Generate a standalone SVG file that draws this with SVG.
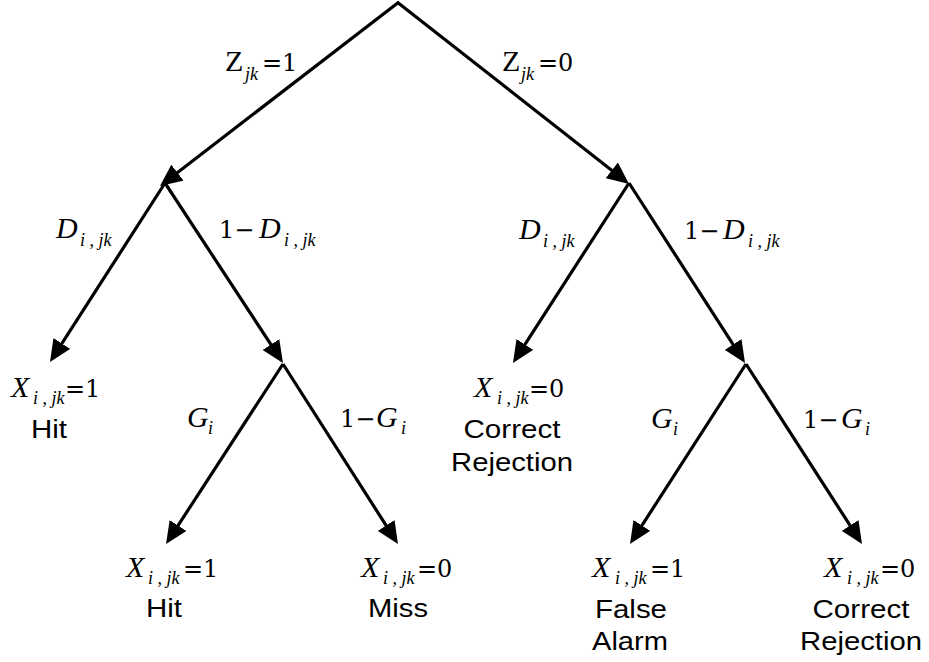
<svg xmlns="http://www.w3.org/2000/svg" width="929" height="662" viewBox="0 0 929 662">
<style>
.e{fill:none;stroke:#000;stroke-width:3.2;marker-end:url(#ah)}
.v{font-family:"Liberation Serif","Times New Roman",serif;font-style:italic;font-size:30px;fill:#000}
.s{font-family:"Liberation Serif","Times New Roman",serif;font-style:italic;font-size:18px}
.n{font-family:"DejaVu Serif",serif;font-style:normal;font-size:24px}
.t{font-family:"Liberation Sans",Arial,sans-serif;font-size:26px;fill:#000;text-anchor:middle}
</style>
<defs>
<marker id="ah" viewBox="0 0 22 20" refX="10" refY="10" markerWidth="22" markerHeight="20" markerUnits="userSpaceOnUse" orient="auto">
<path d="M0,0 L22,10 L0,20 Z" fill="#000"/>
</marker>
</defs>
<rect width="929" height="662" fill="#fff"/>
<g id="connectors">
<path class="e" d="M399,2 L169.5,178.7"/>
<path class="e" d="M397,2 L619.6,176.5"/>
<path class="e" d="M165,183 L56.5,351.9"/>
<path class="e" d="M165,183 L276.4,352.9"/>
<path class="e" d="M629,183 L519.5,352.9"/>
<path class="e" d="M629,183 L738.5,352.9"/>
<path class="e" d="M283,364 L172.6,533.9"/>
<path class="e" d="M283,364 L391.5,533.9"/>
<path class="e" d="M746,364 L636.5,533.9"/>
<path class="e" d="M746,364 L855.5,533.9"/>
</g>
<g id="edge-labels">
<text class="v"><tspan x="225" y="71" font-style="normal">Z</tspan><tspan class="s" x="245" y="80">jk</tspan><tspan class="n" x="262" y="71">=1</tspan></text>
<text class="v"><tspan x="502" y="71" font-style="normal">Z</tspan><tspan class="s" x="521" y="80">jk</tspan><tspan class="n" x="538" y="71">=0</tspan></text>
<text class="v"><tspan x="56" y="238">D</tspan><tspan class="s" x="80" y="246">i , jk</tspan></text>
<text class="v"><tspan class="n" x="219" y="238">1−</tspan><tspan x="259" y="238">D</tspan><tspan class="s" x="284" y="246">i , jk</tspan></text>
<text class="v"><tspan x="519" y="239">D</tspan><tspan class="s" x="543" y="247">i , jk</tspan></text>
<text class="v"><tspan class="n" x="684" y="239">1−</tspan><tspan x="723" y="239">D</tspan><tspan class="s" x="748" y="247">i , jk</tspan></text>
<text class="v"><tspan x="187" y="427">G</tspan><tspan class="s" x="208" y="434">i</tspan></text>
<text class="v"><tspan class="n" x="340" y="427">1−</tspan><tspan x="376" y="427">G</tspan><tspan class="s" x="401" y="434">i</tspan></text>
<text class="v"><tspan x="651" y="428">G</tspan><tspan class="s" x="673" y="435">i</tspan></text>
<text class="v"><tspan class="n" x="803" y="428">1−</tspan><tspan x="841" y="428">G</tspan><tspan class="s" x="865" y="435">i</tspan></text>
</g>
<g id="leaf-hit-1">
<text class="v"><tspan x="11" y="397">X</tspan><tspan class="s" x="33" y="404">i , jk</tspan><tspan class="n" x="65" y="397">=1</tspan></text>
<text class="t" x="49" y="438" textLength="36" lengthAdjust="spacingAndGlyphs">Hit</text>
</g>
<g id="leaf-cr-1">
<text class="v"><tspan x="474" y="397">X</tspan><tspan class="s" x="497" y="404">i , jk</tspan><tspan class="n" x="529" y="397">=0</tspan></text>
<text class="t" x="512" y="438" textLength="97" lengthAdjust="spacingAndGlyphs">Correct</text>
<text class="t" x="512" y="471" textLength="122" lengthAdjust="spacingAndGlyphs">Rejection</text>
</g>
<g id="leaf-hit-2">
<text class="v"><tspan x="126" y="577">X</tspan><tspan class="s" x="148" y="584">i , jk</tspan><tspan class="n" x="183" y="577">=1</tspan></text>
<text class="t" x="164" y="617" textLength="36" lengthAdjust="spacingAndGlyphs">Hit</text>
</g>
<g id="leaf-miss">
<text class="v"><tspan x="361" y="577">X</tspan><tspan class="s" x="383" y="584">i , jk</tspan><tspan class="n" x="417" y="577">=0</tspan></text>
<text class="t" x="398" y="617" textLength="60" lengthAdjust="spacingAndGlyphs">Miss</text>
</g>
<g id="leaf-fa">
<text class="v"><tspan x="592" y="577">X</tspan><tspan class="s" x="615" y="584">i , jk</tspan><tspan class="n" x="650" y="577">=1</tspan></text>
<text class="t" x="631" y="618" textLength="72" lengthAdjust="spacingAndGlyphs">False</text>
<text class="t" x="630" y="650" textLength="76" lengthAdjust="spacingAndGlyphs">Alarm</text>
</g>
<g id="leaf-cr-2">
<text class="v"><tspan x="824" y="577">X</tspan><tspan class="s" x="847" y="584">i , jk</tspan><tspan class="n" x="880" y="577">=0</tspan></text>
<text class="t" x="861" y="618" textLength="97" lengthAdjust="spacingAndGlyphs">Correct</text>
<text class="t" x="861" y="650" textLength="122" lengthAdjust="spacingAndGlyphs">Rejection</text>
</g>
</svg>
